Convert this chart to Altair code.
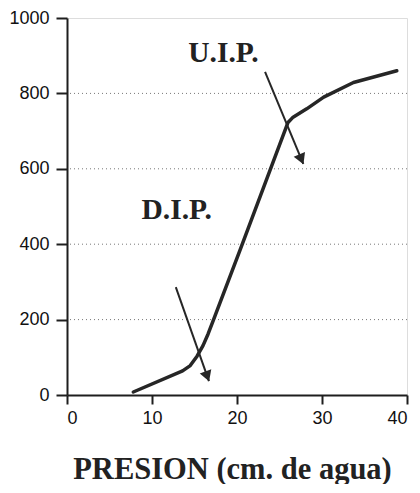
import altair as alt
import pandas as pd

# Curve (pressure vs volume)
PRESSURE = [7.8, 13.6, 14.5, 15.3, 16.0, 16.6, 17.2, 20.4, 26.0, 26.6, 28.2, 30.2, 33.7, 38.8]
VOLUME = [8, 64, 78, 103, 131, 162, 197, 387, 723, 737, 759, 790, 829, 860]

# Arrows (start -> end)
ARROW_NAMES = ["U.I.P.", "D.I.P."]
ARROW_X1 = [23.3, 12.8]
ARROW_Y1 = [857, 286]
ARROW_X2 = [27.8, 16.7]
ARROW_Y2 = [613, 37]
ARROW_ANGLE = [337.4, 340.5]

# Labels
LABELS = ["U.I.P.", "D.I.P."]
LABEL_X = [18.4, 12.9]
LABEL_Y = [883, 467]

GRID_VALUES = [200, 400, 600, 800]
X_TICKS = [0, 10, 20, 30, 40]
Y_TICKS = [0, 200, 400, 600, 800, 1000]

curve = pd.DataFrame({"x": PRESSURE, "y": VOLUME})
arrows = pd.DataFrame({"name": ARROW_NAMES, "x1": ARROW_X1, "y1": ARROW_Y1,
                       "x2": ARROW_X2, "y2": ARROW_Y2, "angle": ARROW_ANGLE})
# head placed slightly back from the tip along the arrow
arrows["hx"] = arrows.x1 + (arrows.x2 - arrows.x1) * 0.95
arrows["hy"] = arrows.y1 + (arrows.y2 - arrows.y1) * 0.95
labels = pd.DataFrame({"t": LABELS, "x": LABEL_X, "y": LABEL_Y})
grid = pd.DataFrame({"v": GRID_VALUES})

xscale = alt.Scale(domain=[0, 40], nice=False, zero=False)
yscale = alt.Scale(domain=[0, 1000], nice=False)

xaxis = alt.Axis(values=X_TICKS, grid=False, domainColor="#1e1e1e", domainWidth=2,
                 tickColor="#1e1e1e", tickWidth=2, tickSize=9, format="d",
                 labelFont="Liberation Sans", labelFontSize=18,
                 labelColor="#111", labelPadding=5,
                 title="PRESION (cm. de agua)", titleFont="Liberation Serif",
                 titleFontSize=30.5, titleFontWeight="bold", titleColor="#222",
                 titleX=165, titleY=83, titleBaseline="alphabetic", titleAlign="center")
yaxis = alt.Axis(values=Y_TICKS, grid=False, domainColor="#1e1e1e", domainWidth=2,
                 tickColor="#1e1e1e", tickWidth=2, tickSize=11, format="d",
                 labelFont="Liberation Sans", labelFontSize=18,
                 labelColor="#111", labelPadding=7, title=None)

grid_layer = alt.Chart(grid).mark_rule(color="#777", strokeWidth=1, strokeDash=[1, 3]).encode(
    y=alt.Y("v:Q", scale=yscale, axis=yaxis)
)

line = alt.Chart(curve).mark_line(color="#262626", strokeWidth=3.5, interpolate="linear",
                                  strokeCap="round", strokeJoin="round").encode(
    x=alt.X("x:Q", scale=xscale, axis=xaxis),
    y=alt.Y("y:Q", scale=yscale, axis=yaxis),
)

shafts = alt.Chart(arrows).mark_rule(color="#262626", strokeWidth=2).encode(
    x=alt.X("x1:Q", scale=xscale), y=alt.Y("y1:Q", scale=yscale),
    x2="x2:Q", y2="y2:Q",
)

heads = alt.Chart(arrows).mark_point(shape="triangle-down", filled=True, color="#262626",
                                     size=150, opacity=1).encode(
    x=alt.X("hx:Q", scale=xscale), y=alt.Y("hy:Q", scale=yscale),
    angle=alt.Angle("angle:Q", scale=None),
)

text = alt.Chart(labels).mark_text(font="Liberation Serif", fontSize=29.5, fontWeight="bold",
                                   color="#222", baseline="alphabetic", align="center").encode(
    x=alt.X("x:Q", scale=xscale), y=alt.Y("y:Q", scale=yscale), text="t:N"
)

chart = alt.layer(grid_layer, line, shafts, heads, text).properties(
    width=340, height=377,
    autosize=alt.AutoSizeParams(type="none"),
    padding={"left": 59, "top": 10, "right": 4, "bottom": 89},
).configure_view(stroke=None).configure(background="white")

chart.save("out.html", embed_options={"renderer": "svg", "actions": False})
